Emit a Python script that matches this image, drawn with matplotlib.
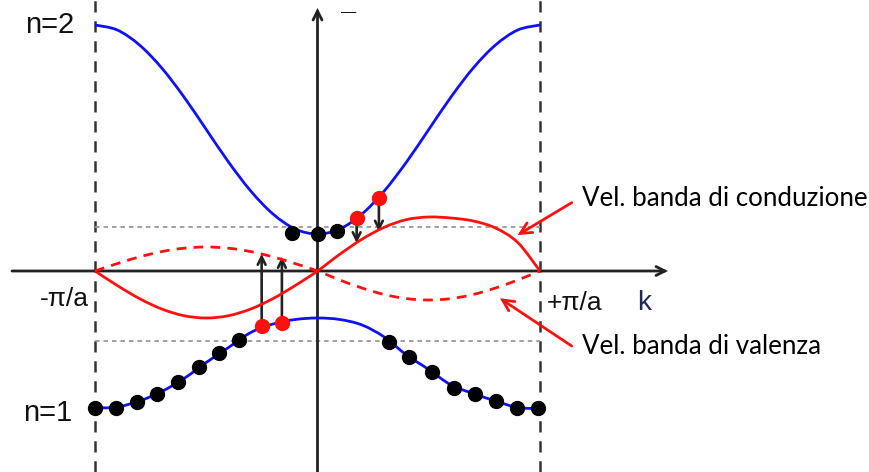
import numpy as np
import matplotlib
matplotlib.use("Agg")
import matplotlib.pyplot as plt
from matplotlib.path import Path
from matplotlib.patches import PathPatch, FancyArrowPatch

# ---- data -------------------------------------------------------------
# wave vector k in units of pi/a, energies / velocities in arbitrary units
k_grid = [-1.0, -0.9, -0.8, -0.7, -0.6, -0.5, -0.4, -0.3, -0.2, -0.1, 0.0,
          0.1, 0.2, 0.3, 0.4, 0.5, 0.6, 0.7, 0.8, 0.9, 1.0]

# band n=2 (conduction)
E_band2 = [246, 241, 226, 203, 174, 141.5, 109, 80, 57, 42, 37,
           42, 57, 80, 109, 141.5, 174, 203, 226, 241, 246]
# band n=1 (valence)
E_band1 = [-137, -136, -130, -120.5, -107.5, -91.5, -76.5, -61.5, -53, -48.5, -47,
           -48.5, -54, -66, -84, -98.5, -114, -122.5, -130, -136.5, -137.5]
# group velocity, conduction band (solid) and valence band (dashed)
v_cond = [0, -14.5, -27.6, -38, -44.7, -47, -44.7, -38, -27.6, -14.5, 0,
          16.7, 31.8, 43.7, 51.4, 54, 53, 50, 43, 28.5, 0]
v_val = [0, 7.4, 14.1, 19.4, 22.8, 24, 22.8, 19.4, 14.1, 7.4, 0,
         -9, -17, -23.5, -27.6, -29, -27.6, -23.5, -17, -9, 0]

# occupied states (black) on band n=1
occ1_k = [-1.0, -0.906, -0.811, -0.722, -0.627, -0.533, -0.443, -0.353,
          0.323, 0.413, 0.516, 0.615, 0.708, 0.802, 0.898, 0.992]
occ1_E = [-137, -137, -130.5, -123, -110.5, -95.5, -82, -69,
          -70.5, -86, -101, -116.5, -123, -130, -137, -137]
# states on band n=2 (black)
occ2_k = [-0.116, 0.0, 0.086]
occ2_E = [38.5, 37, 40]
# states taking part in the transition (red)
red1_k = [-0.251, -0.160]
red1_E = [-55, -51.5]
red2_k = [0.176, 0.276]
red2_E = [53.5, 73]
# heads of the arrows pointing at the velocity curves
arrow1_tip = [17, 14]
arrow2_tip = [28, 39.5]

# reference energy levels (grey dotted)
E_levels = [44, -70]

# ---- figure -----------------------------------------------------------
W, H = 869, 472
fig = plt.figure(figsize=(W / 100, H / 100), dpi=100)
ax = fig.add_axes([0, 0, 1, 1])
x0, sx = 317.5, 222.5          # pixel of k=0 and pixels per pi/a
ax.set_xlim(-x0 / sx, (W - x0) / sx)
ax.set_ylim(271 - H, 271)
ax.axis("off")

BLUE = "#1010ff"
RED = "#ff1010"
AX = "#222222"


def smooth_path(xs, ys):
    """Cubic Bezier path running through all the given points."""
    P = np.column_stack([xs, ys]).astype(float)
    n = len(P)
    verts = [P[0]]
    codes = [Path.MOVETO]
    for i in range(n - 1):
        p0 = P[i - 1] if i > 0 else P[i]
        p1, p2 = P[i], P[i + 1]
        p3 = P[i + 2] if i + 2 < n else P[i + 1]
        c1 = p1 + (p2 - p0) / 6.0
        c2 = p2 - (p3 - p1) / 6.0
        verts += [c1, c2, p2]
        codes += [Path.CURVE4] * 3
    return Path(verts, codes)


def curve(xs, ys, **kw):
    ax.add_patch(PathPatch(smooth_path(xs, ys), fill=False, capstyle="butt", **kw))


def arrow(p, q, color=AX, lw=1.8, ms=14):
    ax.add_patch(FancyArrowPatch(p, q, arrowstyle="->", mutation_scale=ms,
                                 color=color, lw=lw, shrinkA=0, shrinkB=0,
                                 joinstyle="miter"))

# zone boundaries
for kb in (-1, 1):
    ax.plot([kb, kb], [271 - H, 271], color="#333333", lw=1.8,
            linestyle=(0, (4.5, 3.5)), zorder=1)

# reference levels
for e in E_levels:
    ax.plot([-1, 1], [e, e], color="#9a9a9a", lw=1.3,
            linestyle=(0, (2.5, 2.2)), zorder=1)

# axes with arrows
arrow(((12 - x0) / sx, 0), ((668 - x0) / sx, 0), lw=2.0, ms=16)
arrow((0, 271 - H), (0, 263), lw=2.0, ms=16)

# bands
curve(k_grid, E_band2, edgecolor=BLUE, lw=2.0, zorder=3)
curve(k_grid, E_band1, edgecolor=BLUE, lw=2.0, zorder=3)

# velocities
curve(k_grid, v_cond, edgecolor=RED, lw=2.0, zorder=3)
curve(k_grid, v_val, edgecolor=RED, lw=2.0, zorder=3,
      linestyle=(0, (3.5, 2.6)))

# states
ax.plot(occ1_k, occ1_E, "o", color="black", ms=10, zorder=5)
ax.plot(occ2_k, occ2_E, "o", color="black", ms=10, zorder=5)
ax.plot(red1_k, red1_E, "o", color=RED, ms=10, zorder=5)
ax.plot(red2_k, red2_E, "o", color=RED, ms=10, zorder=5)

# transition arrows
for kk, e0, e1 in zip(red1_k, red1_E, arrow1_tip):
    arrow((kk, e0), (kk, e1), lw=1.9, ms=14)
for kk, e0, e1 in zip(red2_k, red2_E, arrow2_tip):
    arrow((kk, e0), (kk, e1), lw=1.9, ms=14)

# labels
def px(x, y):
    return ((x - x0) / sx, 271 - y)

lab = dict(family="Liberation Sans", color="#111111")
ax.text(*px(50, 25), "n=2", fontsize=21, ha="center", va="center", **lab)
ax.text(*px(48, 413), "n=1", fontsize=21, ha="center", va="center", **lab)
ax.text(*px(64, 299), "-\u03c0/a", fontsize=19, ha="center", va="center", **lab)
ax.text(*px(575, 303), "+\u03c0/a", fontsize=19, ha="center", va="center", **lab)
ax.text(*px(644, 303), "k", fontsize=20, ha="center", va="center",
        family="Liberation Sans", color="#1f2a5a")
ax.text(*px(349, 12), "\u2014", fontsize=11, ha="center", va="center", **lab)

ann = dict(family="Lato", color="black", fontsize=18.6, ha="left", va="center")
ax.text(*px(582, 199), "Vel. banda di conduzione", **ann)
ax.text(*px(582, 347), "Vel. banda di valenza", **ann)
arrow(px(571.7, 202.7), px(517.7, 235), color=RED, lw=2.0, ms=20)
arrow(px(571.7, 346), px(500, 298.3), color=RED, lw=2.0, ms=20)

fig.savefig("out.png", dpi=100)
